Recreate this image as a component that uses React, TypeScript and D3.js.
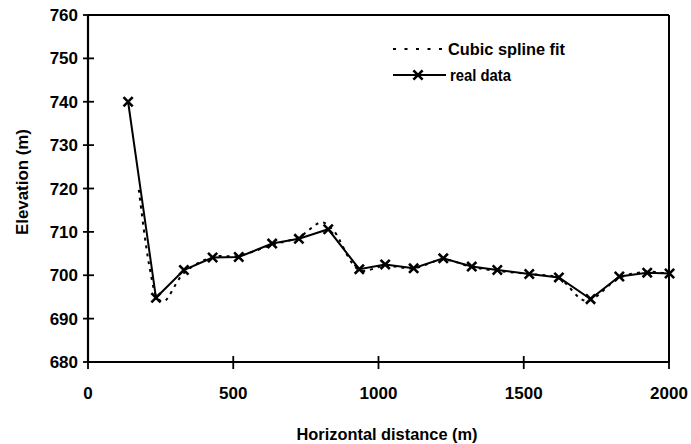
import React from "react";
import * as d3 from "d3";

const realX = [138, 234, 330, 429, 519, 634, 726, 827, 934, 1023, 1121, 1223, 1321, 1409, 1519, 1621, 1730, 1829, 1925, 2002];
const realY = [740, 694.8, 701.2, 704.1, 704.2, 707.3, 708.4, 710.6, 701.4, 702.5, 701.6, 703.9, 702.0, 701.2, 700.3, 699.5, 694.5, 699.7, 700.6, 700.4];

const splineX = [175, 213, 240, 262, 330, 429, 519, 634, 726, 805, 845, 934, 1023, 1121, 1223, 1321, 1409, 1519, 1621, 1715, 1829, 1925, 2000];
const splineY = [719.7, 701.4, 694.6, 694.0, 700.5, 704.2, 704.5, 707.0, 708.8, 712.2, 710.3, 701.2, 702.2, 701.6, 703.6, 701.9, 701.0, 700.3, 699.3, 694.1, 699.4, 700.8, 700.3];

const xTicks = [0, 500, 1000, 1500, 2000];
const yTicks = [680, 690, 700, 710, 720, 730, 740, 750, 760];

const legendLabels = ["Cubic spline fit", "real data"];
const xTitle = "Horizontal distance (m)";
const yTitle = "Elevation (m)";

const W = 691;
const H = 444;
const FONT = "'Liberation Sans', Arial, Helvetica, sans-serif";

export default function App() {
  const x = d3.scaleLinear().domain([0, 2000]).range([88, 669]);
  const y = d3.scaleLinear().domain([680, 760]).range([362, 15]);

  const real = realX.map((v, i) => [v, realY[i]] as [number, number]);
  const spline = splineX.map((v, i) => [v, splineY[i]] as [number, number]);

  const lineGen = d3
    .line<[number, number]>()
    .x((d) => x(d[0]))
    .y((d) => y(d[1]));
  const splineGen = d3
    .line<[number, number]>()
    .x((d) => x(d[0]))
    .y((d) => y(d[1]))
    .curve(d3.curveCatmullRom.alpha(0.5));

  const marker = (cx: number, cy: number, key: string | number) => {
    const s = 4.6;
    return (
      <path
        key={key}
        d={`M${cx - s},${cy - s}L${cx + s},${cy + s}M${cx - s},${cy + s}L${cx + s},${cy - s}`}
        stroke="#000"
        strokeWidth={2.6}
        fill="none"
      />
    );
  };

  const x0 = x(0);
  const x1 = x(2000);
  const yTop = y(760);
  const yBot = y(680);

  return (
    <svg
      width={W}
      height={H}
      style={{ position: "absolute", left: 0, top: 0, background: "#fff" }}
      fontFamily={FONT}
    >
      <rect x={0} y={0} width={W} height={H} fill="#fff" />
      {/* frame */}
      <line x1={x0} x2={x1} y1={yTop} y2={yTop} stroke="#000" strokeWidth={2} />
      <line x1={x1} x2={x1} y1={yTop} y2={yBot} stroke="#000" strokeWidth={2} />
      <line x1={x0} x2={x1} y1={yBot} y2={yBot} stroke="#000" strokeWidth={2.2} />
      <line x1={x0} x2={x0} y1={yTop} y2={yBot} stroke="#000" strokeWidth={2.2} />

      {/* y ticks */}
      {yTicks.map((t) => (
        <g key={"yt" + t}>
          {t !== 760 && t !== 680 && (
            <line x1={x0 - 5} x2={x0 + 6} y1={y(t)} y2={y(t)} stroke="#000" strokeWidth={1.8} />
          )}
          {(t === 760 || t === 680) && (
            <line x1={x0 - 5} x2={x0} y1={y(t)} y2={y(t)} stroke="#000" strokeWidth={1.8} />
          )}
          <text
            x={78}
            y={y(t)}
            dy="0.36em"
            textAnchor="end"
            fontSize={17}
            fontWeight="bold"
            fill="#000"
          >
            {t}
          </text>
        </g>
      ))}

      {/* x ticks */}
      {xTicks.map((t) => (
        <g key={"xt" + t}>
          <line
            x1={x(t)}
            x2={x(t)}
            y1={t === 2000 ? yBot : yBot - 6}
            y2={yBot + 7}
            stroke="#000"
            strokeWidth={1.8}
          />
          <text x={x(t)} y={399} textAnchor="middle" fontSize={17} fontWeight="bold" fill="#000">
            {t}
          </text>
        </g>
      ))}

      {/* axis titles */}
      <text
        x={387}
        y={440}
        textAnchor="middle"
        fontSize={16}
        fontWeight="bold"
        fill="#000"
        textLength={181}
        lengthAdjust="spacingAndGlyphs"
      >
        {xTitle}
      </text>
      <text
        transform={`translate(28,182) rotate(-90)`}
        textAnchor="middle"
        fontSize={16}
        fontWeight="bold"
        fill="#000"
        textLength={106}
        lengthAdjust="spacingAndGlyphs"
      >
        {yTitle}
      </text>

      {/* spline */}
      <path
        d={splineGen(spline) || ""}
        fill="none"
        stroke="#000"
        strokeWidth={2}
        strokeDasharray="3 5"
      />

      {/* real data */}
      <path d={lineGen(real) || ""} fill="none" stroke="#000" strokeWidth={2} />
      {real.map((d, i) => marker(x(d[0]), y(d[1]), i))}

      {/* legend */}
      <line x1={393} x2={446} y1={49} y2={49} stroke="#000" strokeWidth={2.2} strokeDasharray="3 8.5" />
      <text x={448} y={54.5} fontSize={16} fontWeight="bold" fill="#000" textLength={117} lengthAdjust="spacingAndGlyphs">
        {legendLabels[0]}
      </text>
      <line x1={393} x2={446} y1={75} y2={75} stroke="#000" strokeWidth={2} />
      {marker(418, 75, "legm")}
      <text x={450} y={80.5} fontSize={16} fontWeight="bold" fill="#000" textLength={61} lengthAdjust="spacingAndGlyphs">
        {legendLabels[1]}
      </text>
    </svg>
  );
}
